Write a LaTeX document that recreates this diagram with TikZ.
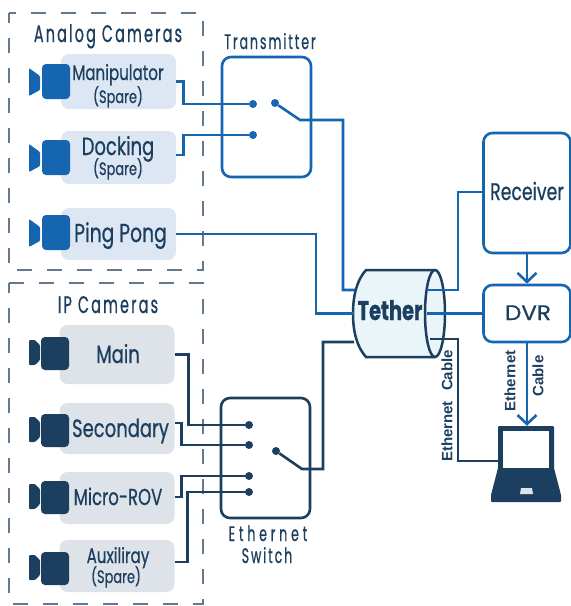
\documentclass[tikz,border=0pt]{standalone}
\usepackage{fontspec}
\usetikzlibrary{arrows.meta,calc}
\newfontfamily\lab[FakeStretch=0.72,FakeBold=0.6]{Poppins}
\newfontfamily\ttl[FakeStretch=0.6,LetterSpace=9,FakeBold=0.6]{Poppins}
\newfontfamily\ttlw[FakeStretch=0.6,LetterSpace=18,FakeBold=0.6]{Poppins}
\newfontfamily\wid[FakeStretch=1.1,FakeBold=0.6]{Poppins}
\newfontfamily\cab{Liberation Sans}
\definecolor{blu}{HTML}{1565B0}
\definecolor{drk}{HTML}{1C3F60}
\definecolor{dsh}{HTML}{64788F}
\definecolor{lblu}{HTML}{DCE7F3}
\definecolor{lgry}{HTML}{DEE3E9}
\definecolor{teth}{HTML}{E9F5F8}
\newcommand{\fs}[1]{\fontsize{#1}{#1}\selectfont}
\tikzset{
  grp/.style={draw=dsh,line width=2pt,dash pattern=on 15pt off 15pt},
  cambox/.style={rounded corners=8pt,minimum width=115pt,inner sep=0pt},
  swbox/.style={rounded corners=9pt,line width=2.6pt,fill=white,inner sep=0pt},
  dotn/.style={circle,inner sep=0pt,minimum size=8pt},
  wire/.style={line width=2.6pt,line join=miter},
  lbl/.style={anchor=base,inner sep=0pt,text=drk,font=\lab\fs{21}},
  title/.style={lbl,font=\ttl\fs{24}},
  small/.style={lbl,font=\ttl\fs{21}},
  cablab/.style={text=drk,font=\cab\bfseries\fs{15},rotate=90},
  opentip/.style={-{Straight Barb[length=9pt,width=19pt,line width=2.6pt]}},
}
\newcommand{\camA}[2]{% x-left, y-top
  \fill[blu,rounded corners=1pt] (#1,#2+4) -- (#1+11,#2+12) -- (#1+11,#2+26) -- (#1,#2+32) -- cycle;
  \fill[blu,rounded corners=4pt] (#1+13,#2) rectangle (#1+41,#2+35);
}
\newcommand{\camB}[2]{%
  \fill[drk,rounded corners=1pt] (#1,#2+3) -- (#1+6,#2+3) -- (#1+11,#2+8) -- (#1+11,#2+23) -- (#1+6,#2+28) -- (#1,#2+28) -- cycle;
  \fill[drk,rounded corners=4pt] (#1+12,#2) rectangle (#1+40,#2+33);
}
\begin{document}
\begin{tikzpicture}[x=1pt,y=-1pt]
\useasboundingbox (0,0) rectangle (571,606);
\draw[grp,dash phase=5pt] (9,13) rectangle (203,270);
\draw[grp,dash phase=5pt] (9,283) rectangle (203,604);
\node[title] (tanalog) at (108,42) {Analog Cameras};
\node[title] (tip) at (108,313) {IP Cameras};
% analog boxes
\node[cambox,fill=lblu,minimum height=55pt] (man) at (118.5,81.5) {};
\node[cambox,fill=lblu,minimum height=53pt] (doc) at (118.5,157.5) {};
\node[cambox,fill=lblu,minimum height=52pt] (png) at (118.5,234) {};
\node[lbl] (lman) at (118,80) {Manipulator};
\node[lbl,font=\lab\fs{18}] (lman2) at (118,103) {(Spare)};
\node[lbl,font=\lab\fs{25}] (ldoc) at (118,155) {Docking};
\node[lbl,font=\lab\fs{18}] (ldoc2) at (118,175) {(Spare)};
\node[lbl,font=\lab\fs{26}] (lpng) at (120.5,242) {Ping Pong};
\camA{29}{64}
\camA{29}{140}
\camA{29}{215}
% ip boxes
\node[cambox,fill=lgry,minimum height=59pt] (mai) at (117,354.5) {};
\node[cambox,fill=lgry,minimum height=51pt] (sec) at (117,428.5) {};
\node[cambox,fill=lgry,minimum height=52pt] (mic) at (117,498) {};
\node[cambox,fill=lgry,minimum height=52pt] (aux) at (117,566) {};
\node[lbl,font=\lab\fs{25}] (lmai) at (118,363) {Main};
\node[lbl,font=\lab\fs{25}] (lsec) at (120.5,437) {Secondary};
\node[lbl,font=\lab\fs{23}] (lmic) at (118,505) {Micro-ROV};
\node[lbl] (laux) at (118,563) {Auxiliray};
\node[lbl,font=\lab\fs{18}] (laux2) at (116,583) {(Spare)};
\camB{29}{337}
\camB{29}{414}
\camB{29}{481}
\camB{29}{552}
% switch boxes
\node[swbox,draw=blu,minimum width=89pt,minimum height=120pt,fill=none] (tx) at (266.5,117) {};
\node[swbox,draw=drk,minimum width=89pt,minimum height=120pt,fill=none] (esw) at (265.5,458) {};
\node[small] (ltx) at (270,49) {Transmitter};
\node[small,font=\ttlw\fs{21}] (lesw) at (268,541) {Ethernet};
\node[small] (lesw2) at (267,563) {Switch};
% dots
\node[dotn,fill=blu] (t1) at (253,104) {};
\node[dotn,fill=blu] (t2) at (253,135) {};
\node[dotn,fill=blu] (t3) at (275,103) {};
\node[dotn,fill=drk] (e1) at (249,425) {};
\node[dotn,fill=drk] (e2) at (249,445) {};
\node[dotn,fill=drk] (e3) at (249,476) {};
\node[dotn,fill=drk] (e4) at (249,492) {};
\node[dotn,fill=drk] (e5) at (276,451) {};
% tether
\coordinate (tc) at (435,313.5);
\draw[drk,line width=2.5pt,fill=teth] (435,270) -- (366,270) .. controls (357,280) and (353,295) .. (353,313.5) .. controls (353,332) and (357,347) .. (366,357) -- (435,357);
\draw[drk,line width=2.5pt,fill=teth] (tc) ellipse [x radius=10,y radius=43.5];
\node[lbl,font=\lab\bfseries\fs{27}] (tth) at (390,320) {Tether};
% right boxes
\node[swbox,draw=blu,minimum width=87pt,minimum height=120pt] (rcv) at (527,193) {};
\node[lbl,font=\lab\fs{24}] (lrcv) at (527,200) {Receiver};
\node[swbox,draw=blu,minimum width=87pt,minimum height=57pt] (dvr) at (527,313.5) {};
\node[lbl,font=\wid\fs{21}] (ldvr) at (528,320) {DVR};
% laptop
\node[inner sep=0pt,minimum width=70pt,minimum height=76pt] (lap) at (527,464) {};
\coordinate (lp) at (500,461);
\draw[wire,drk] (430,339) coordinate (tr) -- (458,339) |- (lp);
\fill[drk,rounded corners=1pt] (498,426) -- (554,426) -- (554,468) -- (561,495) -- (561,502) -- (491,502) -- (491,495) -- (498,468) -- cycle;
\fill[white] (503,431) rectangle (549,468);
\fill[lgry] (521,488) -- (532,488) -- (533,494) -- (520,494) -- cycle;
% wires
\draw[wire,blu] (man.east) -- ++(7,0) |- (t1);
\draw[wire,blu] ([yshift=2.5pt]doc.east) -- ++(7,0) |- (t2);
\coordinate (tin) at (355,290);
\draw[wire,blu] (t3) -- (300,120) -- (343,120) |- (tin);
\coordinate (png2) at (354,313.5);
\draw[wire,blu] (png.east) -- (316,234) |- (png2);
\coordinate (rr) at (427,290);
\draw[wire,blu] ([yshift=1pt]rcv.west) -| (458,290) -- (rr);
\coordinate (dr) at (427,313.5);
\draw[wire,blu] (dvr.west) -- (dr);
\draw[wire,blu,opentip] (rcv.south) -- (dvr.north);
\draw[wire,blu,opentip] (dvr.south) -- (lap.north);
\draw[wire,drk] (mai.east) -- ++(14,0) |- (e1);
\draw[wire,drk] ([yshift=5.5pt]sec.east) -- ++(7,0) |- (e2);
\draw[wire,drk] ([yshift=1pt]mic.east) -- ++(7,0) |- (e3);
\draw[wire,drk] ([yshift=4pt]aux.east) -- ++(13,0) |- (e4);
\coordinate (tl) at (354,342);
\draw[wire,drk] (e5) -- (302,469) -- (323,469) |- (tl);
\node[cablab] (c1) at (447,406) {Ethernet\hspace{6pt} Cable};
\node[cablab] (c2) at (510,381) {Ethernet};
\node[cablab] (c3) at (538,376) {Cable};
\end{tikzpicture}
\end{document}
